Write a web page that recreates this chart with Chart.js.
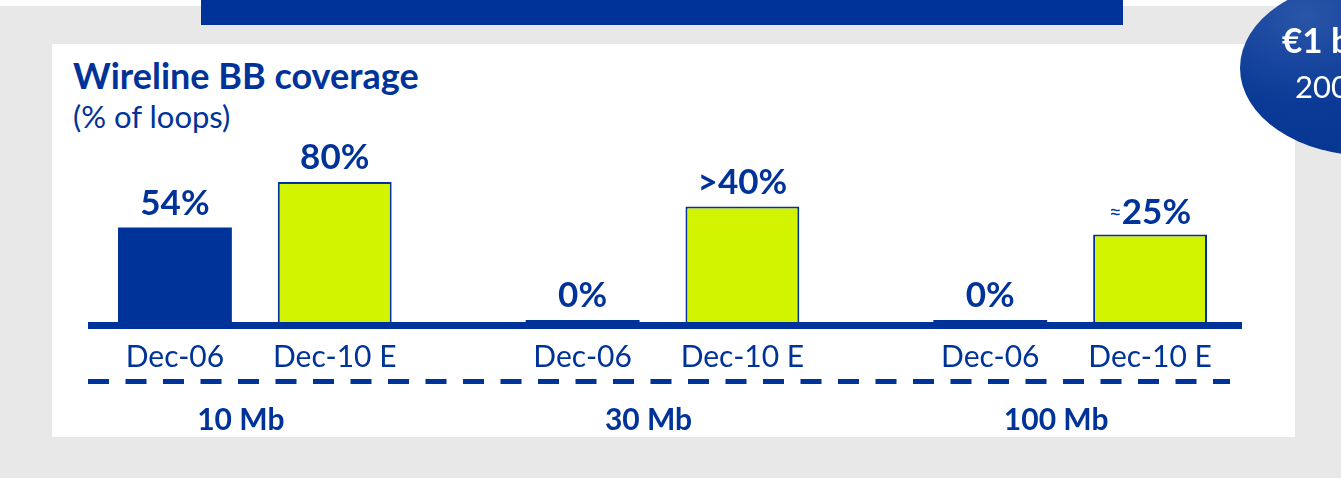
<!DOCTYPE html>
<html>
<head>
<meta charset="utf-8">
<script src="https://cdn.jsdelivr.net/npm/chart.js@4"></script>
<style>
    html, body { margin: 0; padding: 0; }
    body { width: 1341px; height: 478px; position: relative; overflow: hidden; background: #e8e8e8; font-family: Lato, sans-serif; }
    #topWhite { position: absolute; left: 0; top: 0; width: 1341px; height: 6px; background: #fff; }
    #topBar { position: absolute; left: 201px; top: 0; width: 922px; height: 25px; background: #003399; }
    #panel { position: absolute; left: 52px; top: 44px; width: 1243px; height: 393px; background: #fff; }
    #chart { position: absolute; left: 0; top: 0; }
    .title { position: absolute; left: 73px; color: #003399; white-space: nowrap; line-height: 1; }
    #title { top: 57px; font-size: 36px; font-weight: 700; }
    #subtitle { top: 101px; font-size: 31px; font-weight: 400; }
    #badge { position: absolute; left: 1240px; top: -20px; width: 260px; height: 176px; border-radius: 50%;
             background: radial-gradient(ellipse at 25% 20%, #2a55a8 0%, #0a3a96 45%, #00328c 100%); }
    .badgeText { position: absolute; color: #fff; white-space: nowrap; line-height: 1; }
    #badge1 { left: 1282px; top: 22px; font-size: 35px; font-weight: 700; }
    #badge2 { left: 1295px; top: 71px; font-size: 31px; font-weight: 400; }
</style>
</head>
<body>
<div id="topWhite"></div>
<div id="topBar"></div>
<div id="panel"></div>
<div class="title" id="title">Wireline BB coverage</div>
<div class="title" id="subtitle">(% of loops)</div>
<canvas id="chart" width="1341" height="478"></canvas>
<div id="badge"></div>
<div class="badgeText" id="badge1">€1 bn</div>
<div class="badgeText" id="badge2">2007</div>
<script>
// speeds and periods
const categories = ['10 Mb', '30 Mb', '100 Mb'];
const periods = ['Dec-06', 'Dec-10 E'];

// bar heights as drawn (% of loops)
const dec06Values = [54, 0, 0];
const dec10Values = [80, 66, 50];

// printed labels above bars
const dec06Labels = ['54%', '0%', '0%'];
const dec10Labels = ['80%', '>40%', '≈25%'];

const BLUE = '#003399';
const GREEN = '#d2f400';

const labelsPlugin = {
    id: 'labelsPlugin',
    afterDatasetsDraw(chart) {
        const ctx = chart.ctx;
        const area = chart.chartArea;
        const xScale = chart.scales.x;
        const allLabels = [dec06Labels, dec10Labels];

        ctx.save();
        // baseline axis
        ctx.fillStyle = BLUE;
        ctx.fillRect(88, area.bottom, 1154, 7);

        // dashed separator
        ctx.strokeStyle = BLUE;
        ctx.lineWidth = 5;
        ctx.setLineDash([21, 16.5]);
        ctx.beginPath();
        ctx.moveTo(88, area.bottom + 59.5);
        ctx.lineTo(1230, area.bottom + 59.5);
        ctx.stroke();
        ctx.setLineDash([]);

        ctx.textAlign = 'center';
        ctx.textBaseline = 'alphabetic';
        chart.data.datasets.forEach((ds, di) => {
            const meta = chart.getDatasetMeta(di);
            meta.data.forEach((bar, i) => {
                // value label
                let txt = allLabels[di][i];
                ctx.fillStyle = BLUE;
                if (txt.startsWith('≈')) {
                    const rest = txt.slice(1);
                    ctx.font = '700 35px Lato';
                    const wRest = ctx.measureText(rest).width;
                    ctx.font = '400 22px Lato';
                    const wPre = ctx.measureText('≈').width;
                    const start = bar.x - (wRest + wPre) / 2;
                    ctx.textAlign = 'left';
                    ctx.fillText('≈', start, bar.y - 16);
                    ctx.font = '700 35px Lato';
                    ctx.fillText(rest, start + wPre, bar.y - 11);
                    ctx.textAlign = 'center';
                } else {
                    ctx.font = '700 35px Lato';
                    ctx.fillText(txt, bar.x, bar.y - 13);
                }
                // period label
                ctx.font = '400 30px Lato';
                ctx.fillText(periods[di], bar.x, area.bottom + 45);
            });
        });

        // speed labels
        ctx.font = '700 30px Lato';
        categories.forEach((c, i) => {
            ctx.fillText(c, xScale.getPixelForValue(i) - 14, area.bottom + 108);
        });
        ctx.restore();
    }
};

new Chart(document.getElementById('chart'), {
    type: 'bar',
    data: {
        labels: categories,
        datasets: [
            {
                label: periods[0],
                data: dec06Values,
                backgroundColor: BLUE,
                borderWidth: 0,
                minBarLength: 2
            },
            {
                label: periods[1],
                data: dec10Values,
                backgroundColor: GREEN,
                borderColor: BLUE,
                borderWidth: 2
            }
        ]
    },
    options: {
        responsive: false,
        animation: false,
        layout: { padding: { left: 51, right: 67, top: 147, bottom: 156 } },
        datasets: { bar: { categoryPercentage: 0.784, barPercentage: 0.7125 } },
        scales: {
            x: { display: false },
            y: { display: false, min: 0, max: 100 }
        },
        plugins: {
            legend: { display: false },
            tooltip: { enabled: false }
        }
    },
    plugins: [labelsPlugin]
});
</script>
</body>
</html>
